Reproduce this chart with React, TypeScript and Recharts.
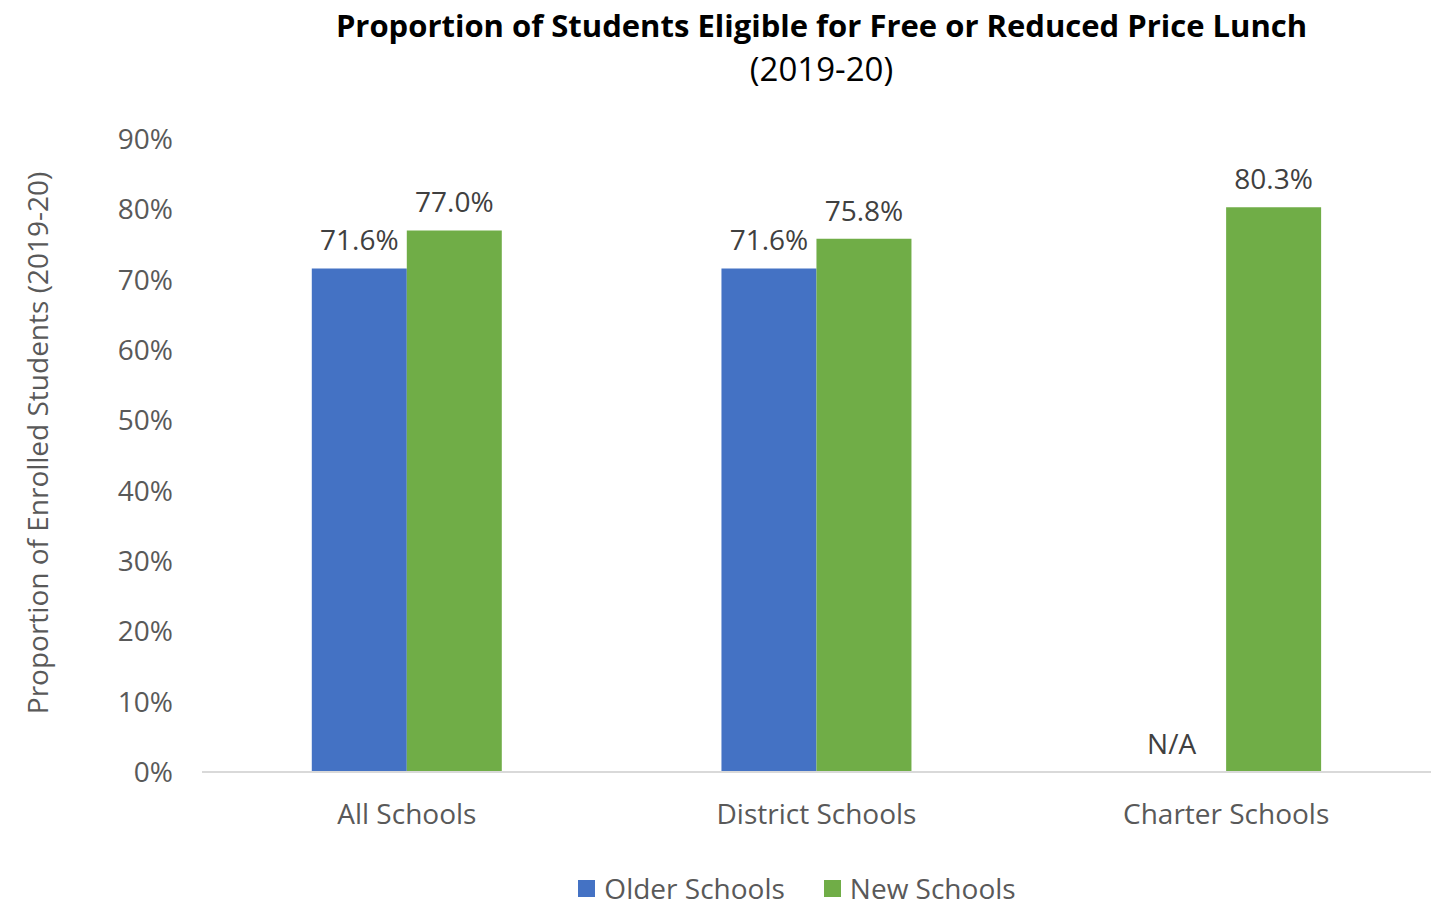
import React from "react";
import { BarChart, Bar, XAxis, YAxis, Legend, LabelList, Rectangle } from "recharts";

const categories = ["All Schools", "District Schools", "Charter Schools"];
const olderValues: (number | null)[] = [0.716, 0.716, null];
const newValues = [0.77, 0.758, 0.803];
const yTicks = [0, 0.1, 0.2, 0.3, 0.4, 0.5, 0.6, 0.7, 0.8, 0.9];
const seriesNames = ["Older Schools", "New Schools"];
const colors = ["#4472C4", "#70AD47"];

const fmt = (v: number | null) => (v == null ? "N/A" : `${(v * 100).toFixed(1)}%`);

const data = categories.map((c, i) => ({
  name: c,
  older: olderValues[i] ?? 0,
  olderLabel: fmt(olderValues[i]),
  newer: newValues[i],
  newerLabel: fmt(newValues[i]),
}));

const FONT = "'Open Sans', 'Noto Sans', sans-serif";
const TXT = "#595959";

const pct = (v: number) => `${(v * 100).toFixed(0)}%`;

const renderLabel = (props: any) => {
  const { x, y, width, value } = props;
  if (value === "N/A") return null;
  return (
    <text x={x + width / 2} y={y - 18} textAnchor="middle" fill="#404040" fontSize={28} fontFamily={FONT}>
      {value}
    </text>
  );
};

const OlderShape = (props: any) => {
  const { x, y, width, height, payload } = props;
  if (payload && payload.olderLabel === "N/A") {
    return (
      <text x={x + width / 2 - 7} y={y + height - 18} textAnchor="middle" fill="#404040" fontSize={28} fontFamily={FONT}>
        N/A
      </text>
    );
  }
  return <Rectangle {...props} />;
};

const LegendContent = () => (
  <div style={{ display: "flex", justifyContent: "center", alignItems: "center", height: 40, fontFamily: FONT, fontSize: 28, color: TXT, paddingLeft: 163 }}>
    {seriesNames.map((n, i) => (
      <div key={n} style={{ display: "flex", alignItems: "center", marginRight: i === 0 ? 39 : 0 }}>
        <div style={{ width: 17, height: 17, background: colors[i], marginRight: 9 }} />
        <span>{n}</span>
      </div>
    ))}
  </div>
);

export default function App() {
  return (
    <div style={{ position: "absolute", left: 0, top: 0, width: 1431, height: 908, background: "#fff" }}>
      <div style={{ position: "absolute", top: 3, left: 212, width: 1219, textAlign: "center", fontFamily: FONT, color: "#000" }}>
        <div style={{ fontSize: 31, fontWeight: 700, lineHeight: "44px", whiteSpace: "nowrap" }}>Proportion of Students Eligible for Free or Reduced Price Lunch</div>
        <div style={{ fontSize: 33, lineHeight: "44px" }}>(2019-20)</div>
      </div>
      <BarChart
        width={1431}
        height={908}
        data={data}
        margin={{ top: 139, right: 0, left: 0, bottom: 0 }}
        barCategoryGap="26.8%"
        barGap={0}
      >
        <XAxis
          dataKey="name"
          height={96}
          tickLine={false}
          tickSize={0}
          tickMargin={32}
          axisLine={{ stroke: "#D9D9D9", strokeWidth: 2 }}
          tick={{ fill: TXT, fontSize: 28, fontFamily: FONT }}
        />
        <YAxis
          width={202}
          domain={[0, 0.9]}
          ticks={yTicks}
          tickFormatter={pct}
          axisLine={false}
          tickLine={false}
          tickSize={0}
          tickMargin={29}
          tick={{ fill: TXT, fontSize: 28, fontFamily: FONT }}
          label={{
            content: () => (
              <text
                x={37}
                y={443}
                transform="rotate(-90, 37, 443)"
                textAnchor="middle"
                dominantBaseline="central"
                fill={TXT}
                fontSize={28}
                fontFamily={FONT}
              >
                Proportion of Enrolled Students (2019-20)
              </text>
            ),
          }}
        />
        <Legend verticalAlign="bottom" height={40} content={<LegendContent />} />
        <Bar dataKey="older" name={seriesNames[0]} fill={colors[0]} isAnimationActive={false} shape={OlderShape}>
          <LabelList dataKey="olderLabel" content={renderLabel} />
        </Bar>
        <Bar dataKey="newer" name={seriesNames[1]} fill={colors[1]} isAnimationActive={false}>
          <LabelList dataKey="newerLabel" content={renderLabel} />
        </Bar>
      </BarChart>
    </div>
  );
}
